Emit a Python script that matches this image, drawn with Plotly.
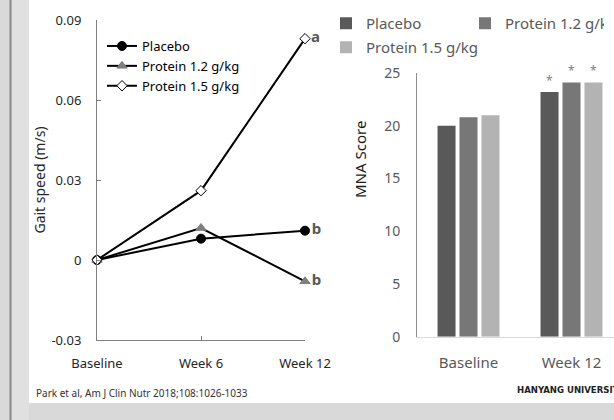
import plotly.graph_objects as go

# ---------------- data ----------------
gait_categories = ["Baseline", "Week 6", "Week 12"]
gait_placebo = [0.0, 0.008, 0.011]
gait_prot12 = [0.0, 0.012, -0.008]
gait_prot15 = [0.0, 0.026, 0.083]
gait_letters_placebo = ["", "", "b"]
gait_letters_prot12 = ["", "", "b"]
gait_letters_prot15 = ["", "", "a"]
gait_yticks = [-0.03, 0, 0.03, 0.06, 0.09]
gait_yticktext = ["-0.03", "0", "0.03", "0.06", "0.09"]

mna_categories = ["Baseline", "Week 12"]
mna_placebo = [20.0, 23.2]
mna_prot12 = [20.8, 24.1]
mna_prot15 = [21.0, 24.1]
mna_stars = ["", "*"]
mna_yticks = [0, 5, 10, 15, 20, 25]

series_names = ["Placebo", "Protein 1.2 g/kg", "Protein 1.5 g/kg"]

W, H = 614, 420
def px(x):
    return x / W
def py(y):
    return 1 - y / H

FONT = "Noto Sans"
fig = go.Figure()

# ---------------- left: line chart ----------------
gx = list(range(len(gait_categories)))
line_specs = [
    (gait_placebo, gait_letters_placebo, dict(symbol="circle", size=9, color="black", line=dict(color="black", width=1))),
    (gait_prot12, gait_letters_prot12, dict(symbol="triangle-up", size=9, color="#7f7f7f", line=dict(color="#7f7f7f", width=1))),
    (gait_prot15, gait_letters_prot15, dict(symbol="diamond", size=8, color="white", line=dict(color="black", width=1))),
]
for name, (vals, letters, mk) in zip(series_names, line_specs):
    fig.add_trace(go.Scatter(
        x=gx, y=vals, name=name, mode="lines+markers+text",
        text=letters, textposition="middle right",
        textfont=dict(family=FONT, size=15, color="#595959", weight="bold"),
        line=dict(color="black", width=2), marker=mk,
        xaxis="x", yaxis="y", legend="legend", cliponaxis=False,
    ))

# ---------------- right: bar chart ----------------
bar_colors = ["#595959", "#777777", "#b3b3b3"]
for i, (name, vals, col) in enumerate(zip(series_names, [mna_placebo, mna_prot12, mna_prot15], bar_colors)):
    fig.add_trace(go.Bar(
        x=mna_categories, y=vals, name=name, marker=dict(color=col, line=dict(width=0)),
        text=mna_stars, textposition="outside", textfont=dict(family=FONT, size=12, color="#7f7f7f"),
        xaxis="x2", yaxis="y2", legend="legend2" if i < 2 else "legend3", cliponaxis=False,
    ))

# ---------------- background shapes ----------------
shapes = [
    dict(type="rect", xref="paper", yref="paper", x0=px(29), x1=1.01, y0=py(403), y1=1.01,
         fillcolor="white", line=dict(width=0), layer="below"),
    dict(type="rect", xref="paper", yref="paper", x0=px(12), x1=px(29), y0=-0.01, y1=1.01,
         fillcolor="#e0e0e0", line=dict(width=0), layer="below"),
    dict(type="line", xref="paper", yref="paper", x0=px(10.5), x1=px(10.5), y0=-0.01, y1=1.01,
         line=dict(color="#8a8a8a", width=2), layer="below"),
]

annotations = [
    dict(text="MNA Score", xref="paper", yref="paper", x=px(360), y=py(160), textangle=-90,
         showarrow=False, font=dict(family=FONT, size=15, color="#1a1a1a")),
    dict(text="Park et al, Am J Clin Nutr 2018;108:1026-1033", xref="paper", yref="paper",
         x=px(34), y=py(393), xanchor="left", yanchor="middle", showarrow=False,
         font=dict(family=FONT, size=10, color="#333333")),
    dict(text="HANYANG UNIVERSITY", xref="paper", yref="paper",
         x=px(515), y=py(389), xanchor="left", yanchor="middle", showarrow=False,
         font=dict(family="DejaVu Sans Condensed", size=9.5, color="#222222", weight="bold")),
]

axis_gray = "#808080"
fig.update_layout(
    width=W, height=H, margin=dict(l=0, r=0, t=0, b=0, autoexpand=False),
    paper_bgcolor="#d9d9d9", plot_bgcolor="rgba(0,0,0,0)",
    shapes=shapes, annotations=annotations,
    barmode="group", bargap=0.36, bargroupgap=0.18,
    font=dict(family=FONT, color="#262626"),
    xaxis=dict(domain=[px(97), px(305)], range=[0, 2], tickvals=gx, ticktext=gait_categories,
               showline=True, linecolor=axis_gray, linewidth=1, ticks="inside", ticklen=4,
               tickcolor=axis_gray, showgrid=False, zeroline=False, ticklabelstandoff=11,
               tickfont=dict(family=FONT, size=13, color="#262626"), anchor="y", automargin=False),
    yaxis=dict(domain=[py(340), py(20)], range=[-0.03, 0.09], tickvals=gait_yticks, ticktext=gait_yticktext,
               showline=True, linecolor=axis_gray, linewidth=1, ticks="inside", ticklen=4,
               tickcolor=axis_gray, showgrid=False, zeroline=False, ticklabelstandoff=12,
               tickfont=dict(family=FONT, size=13, color="#262626"), anchor="x", automargin=False,
               title=dict(text="Gait speed (m/s)", standoff=2, font=dict(family=FONT, size=14, color="#262626"))),
    xaxis2=dict(domain=[px(417), 1], range=[-0.5, -0.5 + 197 / 103], type="category",
                showline=True, linecolor="#d9d9d9", linewidth=1, ticks="", showgrid=False,
                zeroline=False, ticklabelstandoff=12, automargin=False,
                tickfont=dict(family=FONT, size=15, color="#595959"), anchor="y2"),
    yaxis2=dict(domain=[py(336.7), py(73)], range=[0, 25], tickvals=mna_yticks,
                showline=True, linecolor="#8c8c8c", linewidth=1, ticks="", showgrid=False,
                zeroline=False, ticklabelstandoff=13, automargin=False,
                tickfont=dict(family=FONT, size=14, color="#595959"), anchor="x2"),
    legend=dict(x=px(102), y=py(31), xanchor="left", yanchor="top", bgcolor="rgba(0,0,0,0)",
                font=dict(family=FONT, size=13, color="black"), tracegroupgap=0, itemwidth=30),
    legend2=dict(x=px(326), y=py(7), xanchor="left", yanchor="top", orientation="h",
                 bgcolor="rgba(0,0,0,0)", entrywidth=94, entrywidthmode="pixels",
                 font=dict(family=FONT, size=15, color="#595959")),
    legend3=dict(x=px(326), y=py(31), xanchor="left", yanchor="top", orientation="h",
                 bgcolor="rgba(0,0,0,0)",
                 font=dict(family=FONT, size=15, color="#595959")),
)

fig.write_html("out.html")
